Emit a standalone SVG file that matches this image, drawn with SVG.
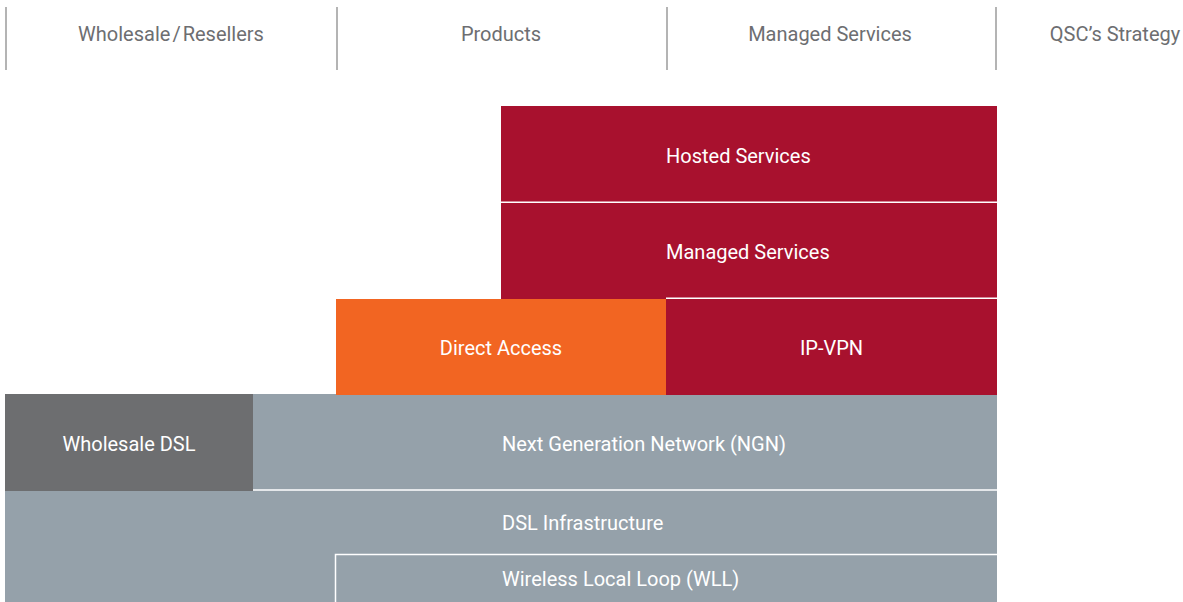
<svg xmlns="http://www.w3.org/2000/svg" width="1183" height="602" viewBox="0 0 1183 602">
<style>
.h{font-family:"Roboto","Liberation Sans",sans-serif;font-size:20px;fill:#6d6e71;text-anchor:middle}
.t{font-family:"Roboto","Liberation Sans",sans-serif;font-size:20px;fill:#ffffff}
.c{text-anchor:middle}
.sep{stroke:#9b9b9b;stroke-width:1.5}
.red{fill:#a8112e}
.org{fill:#f26522}
.gry{fill:#95a1aa}
.dk{fill:#6d6e70}
.wl{stroke:#ffffff;stroke-width:1.5;fill:none}
</style>
<rect width="1183" height="602" fill="#ffffff"/>
<g id="header">
<line class="sep" x1="6" y1="7" x2="6" y2="70"/>
<line class="sep" x1="337" y1="7" x2="337" y2="70"/>
<line class="sep" x1="667" y1="7" x2="667" y2="70"/>
<line class="sep" x1="996" y1="7" x2="996" y2="70"/>
<text class="h" x="171" y="41">Wholesale<tspan dx="2">/</tspan><tspan dx="2">Resellers</tspan></text>
<text class="h" x="501" y="41">Products</text>
<text class="h" x="830" y="41">Managed Services</text>
<text class="h" x="1115" y="41">QSC’s Strategy</text>
</g>
<g id="dsl-infra">
<rect class="gry" x="5" y="490" width="992" height="112"/>
<text class="t" x="502" y="530">DSL Infrastructure</text>
</g>
<g id="wll">
<path class="wl" d="M335.5 602V554.5H997"/>
<text class="t" x="502" y="586">Wireless Local Loop (WLL)</text>
</g>
<g id="ngn">
<rect class="gry" x="253" y="394" width="744" height="96"/>
<line class="wl" x1="253" y1="490" x2="997" y2="490"/>
<text class="t" x="502" y="451">Next Generation Network (NGN)</text>
</g>
<g id="wholesale-dsl">
<rect class="dk" x="5" y="394" width="248" height="97"/>
<text class="t c" x="129" y="451">Wholesale DSL</text>
</g>
<g id="hosted">
<rect class="red" x="501" y="106" width="496" height="96"/>
<text class="t" x="666" y="163">Hosted Services</text>
</g>
<g id="managed">
<rect class="red" x="501" y="203" width="496" height="96"/>
<text class="t" x="666" y="259">Managed Services</text>
</g>
<g id="ipvpn">
<rect class="red" x="666" y="299" width="331" height="96"/>
<text class="t c" x="831.5" y="355">IP-VPN</text>
</g>
<g id="direct">
<rect class="org" x="336" y="299" width="330" height="96"/>
<text class="t c" x="501" y="355">Direct Access</text>
</g>
<g id="connectors">
<line class="wl" x1="501" y1="202.25" x2="997" y2="202.25"/>
<line class="wl" x1="666" y1="298.25" x2="997" y2="298.25"/>
</g>
</svg>
